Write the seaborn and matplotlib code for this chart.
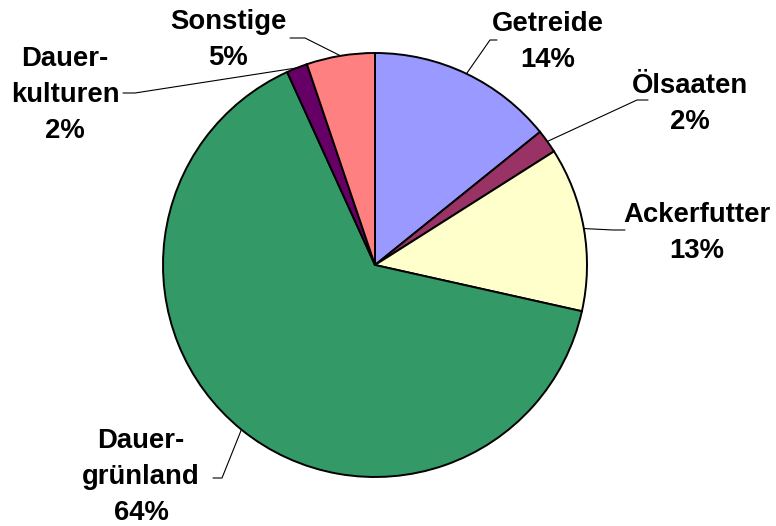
import numpy as np
import matplotlib
matplotlib.use("Agg")
import matplotlib.pyplot as plt
import seaborn as sns

# ---------------------------
# Data
# ---------------------------
categories = ["Getreide", "Ölsaaten", "Ackerfutter", "Dauer-\ngrünland", "Dauer-\nkulturen", "Sonstige"]
shares = [14.2, 1.8, 12.5, 64.7, 1.6, 5.2]
pct_labels = ["14%", "2%", "13%", "64%", "2%", "5%"]
colors = ["#9999FF", "#993366", "#FFFFCC", "#339966", "#660066", "#FF8080"]

# ---------------------------
# Layout (pixel positions in the 776x526 canvas)
# ---------------------------
W, H = 776, 526
CX, CY, R = 375, 265, 212
text_pos = [(548, 42), (690, 104), (697, 233), (141, 477), (65, 95), (228, 40)]
elbow = [(490, 40), (637, 100), (613, 230), (222, 478), (135, 93), (305, 38)]
line_end = [(497, 40), (648, 100), (625, 230), (213, 478), (123, 93), (290, 38)]


def px(p):
    return ((p[0] - CX) / R, (CY - p[1]) / R)


sns.set_theme(style="white")
plt.rcParams["font.family"] = ["Liberation Sans", "DejaVu Sans"]

fig = plt.figure(figsize=(W / 100, H / 100), dpi=100)
ax = fig.add_axes([0, 0, 1, 1])

wedges, _ = ax.pie(shares, colors=sns.color_palette(colors), startangle=90,
                   counterclock=False, radius=1,
                   wedgeprops=dict(edgecolor="black", linewidth=1.4))

for i, w in enumerate(wedges):
    mid = np.deg2rad((w.theta1 + w.theta2) / 2)
    start = (np.cos(mid), np.sin(mid))
    e = px(elbow[i])
    l = px(line_end[i])
    ax.plot([start[0], e[0], l[0]], [start[1], e[1], l[1]], color="black", lw=0.8)
    tx, ty = px(text_pos[i])
    ax.text(tx, ty, categories[i] + "\n" + pct_labels[i], ha="center", va="center",
            fontsize=19.8, fontweight="bold", linespacing=1.52, color="black")

ax.set_xlim(-CX / R, (W - CX) / R)
ax.set_ylim(-(H - CY) / R, CY / R)
ax.set_aspect("equal")
ax.axis("off")

plt.savefig("out.png", dpi=100)
